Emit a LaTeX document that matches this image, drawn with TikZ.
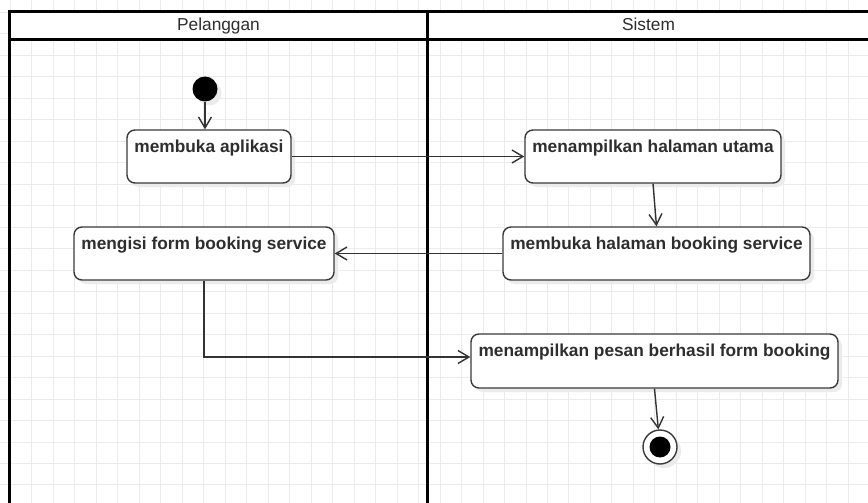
\documentclass[tikz,border=0pt]{standalone}
\usepackage{fontspec}
\setmainfont{Liberation Sans}
\usetikzlibrary{arrows.meta,shadows}
\definecolor{gridc}{HTML}{EBEBEB}
\definecolor{boxc}{HTML}{3A3A3A}
\definecolor{txtc}{HTML}{2E2E2E}
\definecolor{arrc}{HTML}{333333}
\tikzset{
  gridline/.style={draw=gridc, line width=1},
  lane/.style={draw=black, line width=2.6},
  hdr/.style={font=\fontsize{17.3}{20}\selectfont, text=txtc, anchor=base, inner sep=0},
  actbox/.style={draw=boxc, line width=1.4, fill=white, rounded corners=8, inner sep=0,
    drop shadow={shadow xshift=4pt, shadow yshift=-4pt, fill=black!8, opacity=1}},
  lbl/.style={font=\fontsize{17.3}{20}\selectfont\bfseries, text=txtc, anchor=base, inner sep=0},
  arr/.style={draw=arrc, line width=1.4, -{Straight Barb[length=11pt,width=13pt]}},
}
\begin{document}
\begin{tikzpicture}[x=1pt,y=-1pt]
\useasboundingbox (0,0) rectangle (868,503);
\fill[white] (0,0) rectangle (868,503);
% grid
\foreach \i in {0,...,40} \draw[gridline] (10.5+21.48*\i,0) -- ++(0,503);
\foreach \j in {0,...,23} \draw[gridline] (0,12.4+21.48*\j) -- ++(868,0);
% swimlanes
\fill[white] (9.3,11.7) rectangle (880,39.3);
\draw[lane] (880,11.7) -- (9.3,11.7) -- (9.3,520);
\draw[lane] (9.3,39.3) -- (880,39.3);
\draw[lane] (427.7,11.7) -- (427.7,520);
\node[hdr] (hP) at (218.5,30.7) {Pelanggan};
\node[hdr] (hS) at (648.5,30.7) {Sistem};
% start
\node[circle, fill=black, minimum size=25, inner sep=0,
  drop shadow={shadow xshift=4pt, shadow yshift=-4pt, fill=black!8, opacity=1}] (start) at (205,89) {};
% activities
\node[actbox, minimum width=164, minimum height=53] (A) at (209,156.5) {};
\node[lbl] (At) at ([yshift=-22.7pt]A.north) {membuka aplikasi};
\node[actbox, minimum width=256, minimum height=53] (B) at (653,156.5) {};
\node[lbl] (Bt) at ([yshift=-22.7pt]B.north) {menampilkan halaman utama};
\node[actbox, minimum width=307, minimum height=53] (C) at (656.5,253.5) {};
\node[lbl] (Ct) at ([yshift=-22.7pt]C.north) {membuka halaman booking service};
\node[actbox, minimum width=260, minimum height=53] (D) at (204,253.5) {};
\node[lbl] (Dt) at ([yshift=-22.7pt]D.north) {mengisi form booking service};
\node[actbox, minimum width=367, minimum height=54] (E) at (654.5,361) {};
\node[lbl] (Et) at ([yshift=-23pt]E.north) {menampilkan pesan berhasil form booking};
% end
\node[circle, draw=boxc, line width=1.4, fill=white, minimum size=34, inner sep=0,
  drop shadow={shadow xshift=4pt, shadow yshift=-4pt, fill=black!8, opacity=1}] (endo) at (660,447) {};
\node[circle, fill=black, minimum size=21, inner sep=0] (endi) at (660,447) {};
% connectors
\draw[arr] (start.south) -- (A.north -| start.south);
\draw[arr] (A.east) -- (B.west);
\draw[arr] (B.south) -- (C.north);
\draw[arr] (C.west) -- (D.east);
\draw[arr] (D.south) |- ([yshift=4pt]E.west);
\draw[arr] (E.south) -- (endo);
\end{tikzpicture}
\end{document}
